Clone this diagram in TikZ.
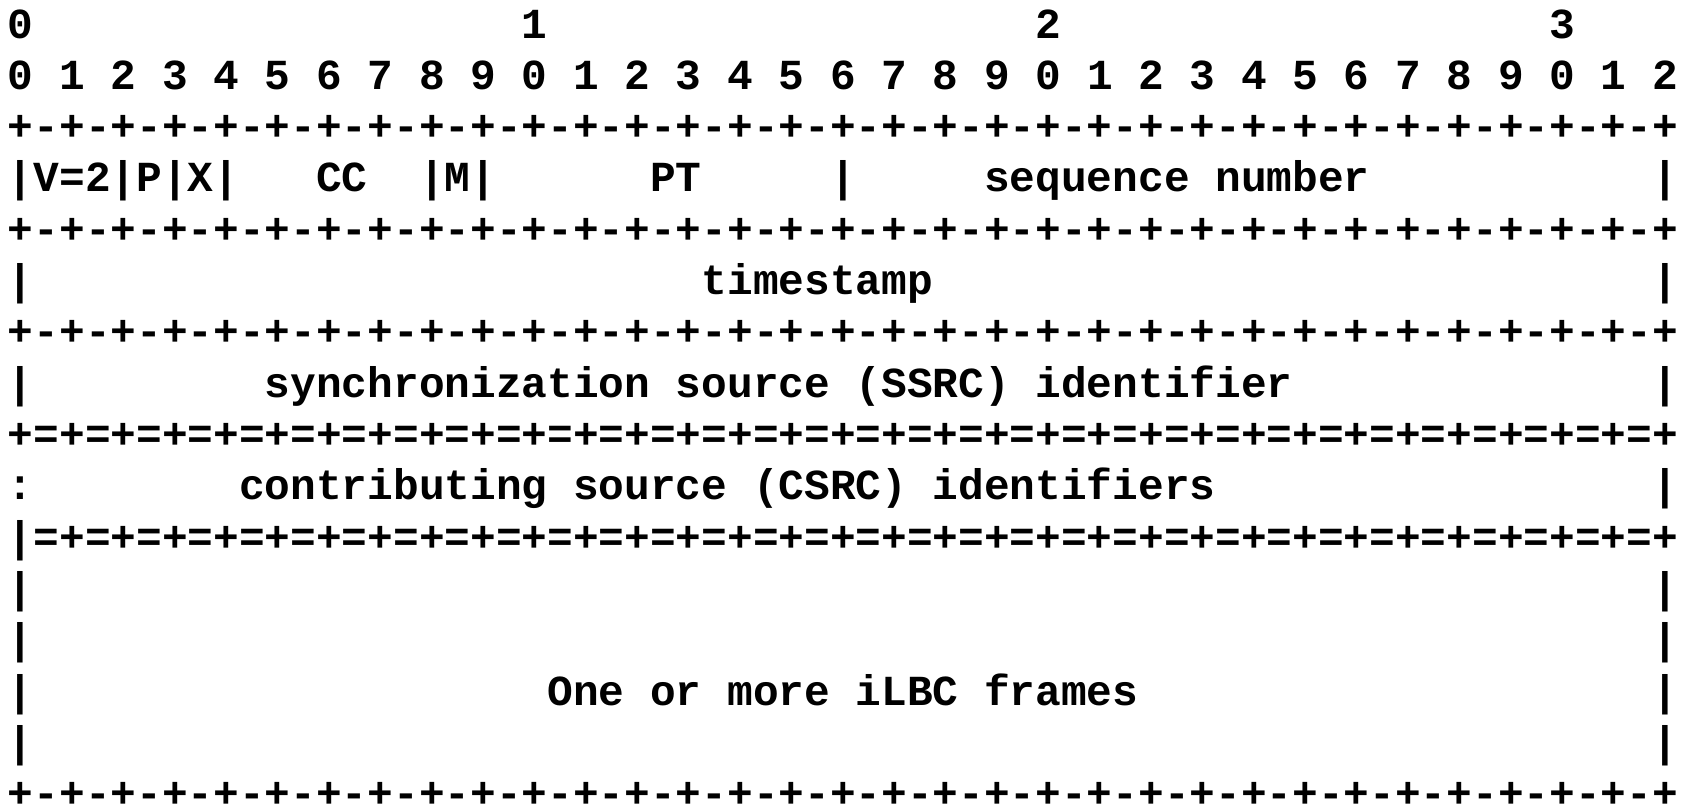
\documentclass[tikz,border=0pt]{standalone}
\usepackage{fontspec}
\usepackage{tikz}
\newfontfamily\asciifont{Liberation Mono}
\frenchspacing

\tikzset{
  asc/.style={anchor=base west, inner sep=0pt, outer sep=0pt,
    font=\asciifont\bfseries\fontsize{10}{12}\selectfont}
}

\begin{document}
\begin{tikzpicture}[x=0.23355pt,y=0.23355pt,yscale=-1,xscale=1]
\useasboundingbox (0,0) rectangle (1682,806);

% bit ruler
\node [asc] (tens) at (8,38) {0};
\node [asc] (ten1) at (521.8,38) {1};
\node [asc] (ten2) at (1035.6,38) {2};
\node [asc] (ten3) at (1549.4,38) {3};
\node [asc] (ones) at (8,89.33) {0 1 2 3 4 5 6 7 8 9 0 1 2 3 4 5 6 7 8 9 0 1 2 3 4 5 6 7 8 9 0 1 2};
\node [asc] (rule1) at (8,140.66) {+-+-+-+-+-+-+-+-+-+-+-+-+-+-+-+-+-+-+-+-+-+-+-+-+-+-+-+-+-+-+-+-+};

% first word: header bits
\node [asc] (vpx) at (8,191.99) {|V=2|P|X|};
\node [asc] (cc) at (316.28,191.99) {CC};
\node [asc] (mbit) at (419.04,191.99) {|M|};
\node [asc] (pt) at (650.25,191.99) {PT};
\node [asc] (ptbar) at (830.08,191.99) {|};
\node [asc] (seq) at (984.22,191.99) {sequence number};
\node [asc] (seqbar) at (1652.16,191.99) {|};
\node [asc] (rule2) at (8,243.32) {+-+-+-+-+-+-+-+-+-+-+-+-+-+-+-+-+-+-+-+-+-+-+-+-+-+-+-+-+-+-+-+-+};

% timestamp
\node [asc] (tsL) at (8,294.65) {|};
\node [asc] (ts) at (701.63,294.65) {timestamp};
\node [asc] (tsR) at (1652.16,294.65) {|};
\node [asc] (rule3) at (8,345.98) {+-+-+-+-+-+-+-+-+-+-+-+-+-+-+-+-+-+-+-+-+-+-+-+-+-+-+-+-+-+-+-+-+};

% SSRC
\node [asc] (ssrcL) at (8,397.31) {|};
\node [asc] (ssrc) at (264.9,397.31) {synchronization source (SSRC) identifier};
\node [asc] (ssrcR) at (1652.16,397.31) {|};
\node [asc] (eq1) at (8,448.64) {+=+=+=+=+=+=+=+=+=+=+=+=+=+=+=+=+=+=+=+=+=+=+=+=+=+=+=+=+=+=+=+=+};

% CSRC list
\node [asc] (csrcL) at (8,499.97) {:};
\node [asc] (csrc) at (239.21,499.97) {contributing source (CSRC) identifiers};
\node [asc] (csrcR) at (1652.16,499.97) {|};
\node [asc] (eq2) at (8,551.3) {|=+=+=+=+=+=+=+=+=+=+=+=+=+=+=+=+=+=+=+=+=+=+=+=+=+=+=+=+=+=+=+=+};

% payload
\node [asc] (padL1) at (8,602.63) {|};
\node [asc] (padR1) at (1652.16,602.63) {|};
\node [asc] (padL2) at (8,653.96) {|};
\node [asc] (padR2) at (1652.16,653.96) {|};
\node [asc] (ilbcL) at (8,705.29) {|};
\node [asc] (ilbc) at (547.49,705.29) {One or more iLBC frames};
\node [asc] (ilbcR) at (1652.16,705.29) {|};
\node [asc] (padL3) at (8,756.62) {|};
\node [asc] (padR3) at (1652.16,756.62) {|};
\node [asc] (rule4) at (8,807.95) {+-+-+-+-+-+-+-+-+-+-+-+-+-+-+-+-+-+-+-+-+-+-+-+-+-+-+-+-+-+-+-+-+};

\end{tikzpicture}
\end{document}
